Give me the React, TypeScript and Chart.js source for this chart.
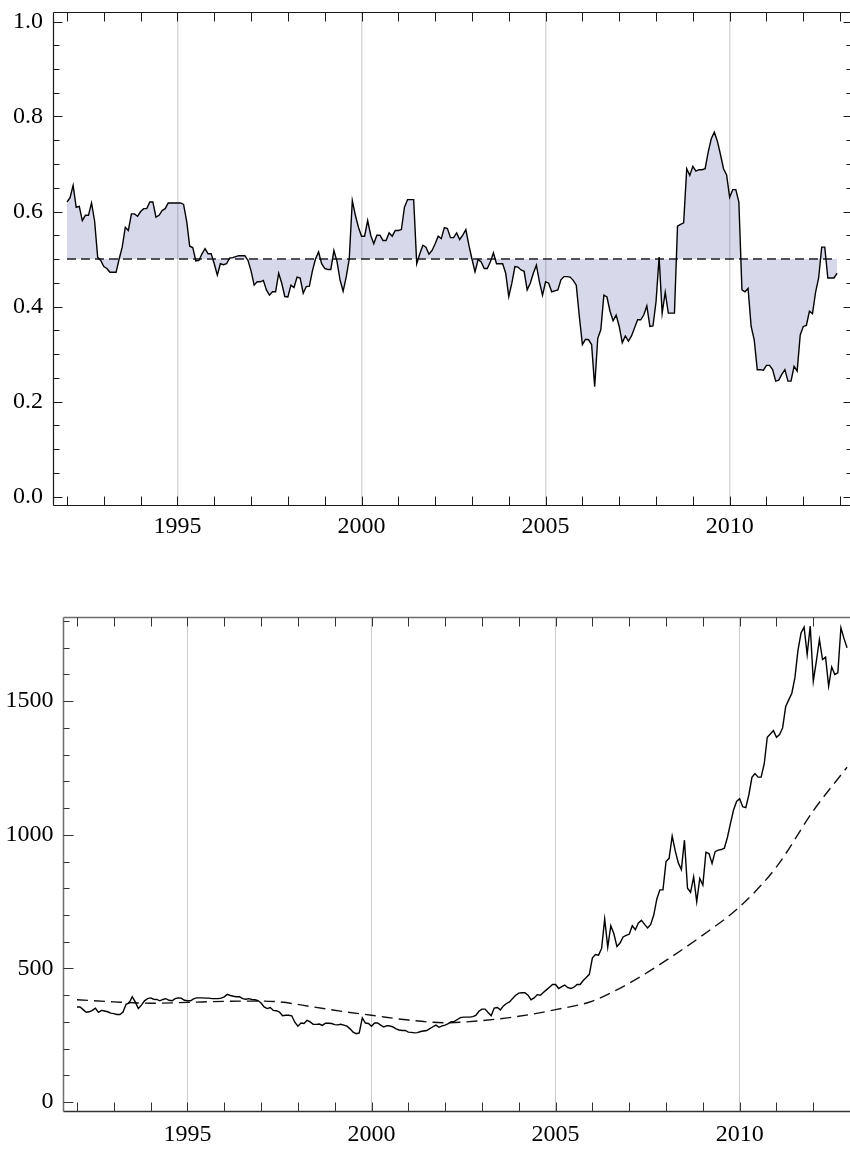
import React, { useEffect, useRef } from 'react';
import { Chart, registerables } from 'chart.js';

Chart.register(...registerables);

// ---------- data ----------
const startYear = 1992;
const monthCount = 252; // Jan 1992 .. Dec 2012
const months: number[] = Array.from({ length: monthCount }, (_, i) => startYear + i / 12);

const yearTicks = [1992, 1993, 1994, 1995, 1996, 1997, 1998, 1999, 2000, 2001, 2002, 2003, 2004, 2005, 2006, 2007, 2008, 2009, 2010, 2011, 2012, 2013];
const labelledYears = [1995, 2000, 2005, 2010];

const ratioMajorTicks = [0, 0.2, 0.4, 0.6, 0.8, 1.0];
const ratioMinorTicks = [0.05, 0.1, 0.15, 0.25, 0.3, 0.35, 0.45, 0.5, 0.55, 0.65, 0.7, 0.75, 0.85, 0.9, 0.95];
const priceMajorTicks = [0, 500, 1000, 1500];
const priceMinorTicks = [100, 200, 300, 400, 600, 700, 800, 900, 1100, 1200, 1300, 1400, 1600, 1700, 1800];

const threshold = 0.5;

const ratioValues = [
  0.620, 0.629, 0.655, 0.609, 0.611, 0.581, 0.592, 0.592, 0.618, 0.580, 0.504, 0.497,
  0.484, 0.480, 0.472, 0.472, 0.472, 0.500, 0.525, 0.567, 0.560, 0.595, 0.595, 0.590,
  0.600, 0.606, 0.606, 0.620, 0.620, 0.588, 0.592, 0.602, 0.606, 0.618, 0.618, 0.618,
  0.618, 0.618, 0.615, 0.580, 0.527, 0.524, 0.496, 0.497, 0.511, 0.522, 0.511, 0.511,
  0.490, 0.466, 0.490, 0.488, 0.490, 0.502, 0.503, 0.505, 0.507, 0.507, 0.507, 0.497,
  0.475, 0.445, 0.452, 0.452, 0.455, 0.435, 0.424, 0.431, 0.431, 0.470, 0.449, 0.421,
  0.420, 0.445, 0.440, 0.462, 0.460, 0.428, 0.442, 0.443, 0.475, 0.500, 0.515, 0.490,
  0.480, 0.478, 0.478, 0.518, 0.495, 0.456, 0.432, 0.462, 0.500, 0.623, 0.592, 0.567,
  0.548, 0.548, 0.581, 0.550, 0.532, 0.550, 0.550, 0.539, 0.539, 0.555, 0.548, 0.560,
  0.560, 0.562, 0.609, 0.625, 0.625, 0.625, 0.490, 0.511, 0.529, 0.525, 0.510, 0.518,
  0.532, 0.548, 0.543, 0.566, 0.564, 0.545, 0.545, 0.555, 0.541, 0.550, 0.562, 0.529,
  0.500, 0.473, 0.499, 0.494, 0.480, 0.480, 0.494, 0.513, 0.490, 0.490, 0.490, 0.470,
  0.421, 0.449, 0.484, 0.483, 0.477, 0.474, 0.435, 0.449, 0.470, 0.487, 0.452, 0.424,
  0.452, 0.449, 0.431, 0.433, 0.435, 0.456, 0.463, 0.463, 0.462, 0.455, 0.445, 0.379,
  0.320, 0.331, 0.330, 0.320, 0.231, 0.333, 0.351, 0.424, 0.420, 0.390, 0.370, 0.382,
  0.358, 0.324, 0.338, 0.327, 0.338, 0.355, 0.372, 0.372, 0.382, 0.401, 0.358, 0.359,
  0.410, 0.504, 0.386, 0.430, 0.386, 0.386, 0.386, 0.569, 0.573, 0.576, 0.690, 0.676,
  0.695, 0.685, 0.688, 0.688, 0.690, 0.725, 0.753, 0.767, 0.748, 0.720, 0.690, 0.677,
  0.630, 0.646, 0.646, 0.620, 0.435, 0.431, 0.438, 0.358, 0.330, 0.267, 0.267, 0.266,
  0.276, 0.276, 0.267, 0.243, 0.245, 0.257, 0.267, 0.243, 0.243, 0.274, 0.264, 0.340,
  0.358, 0.360, 0.390, 0.385, 0.430, 0.460, 0.525, 0.525, 0.460, 0.460, 0.460, 0.470,
];

const priceValues = [
  356, 356, 346, 336, 338, 343, 351, 336, 343, 341, 338, 333,
  331, 328, 328, 337, 366, 371, 394, 375, 350, 363, 379, 387,
  390, 385, 384, 379, 384, 387, 381, 379, 387, 390, 389, 381,
  379, 379, 386, 390, 390, 390, 389, 389, 387, 387, 387, 389,
  394, 403, 399, 396, 394, 394, 387, 385, 387, 384, 383, 380,
  371, 356, 350, 354, 343, 342, 337, 323, 325, 325, 323, 299,
  284, 296, 294, 306, 300, 291, 291, 292, 287, 295, 295, 294,
  290, 289, 291, 288, 284, 274, 262, 256, 259, 315, 296, 294,
  284, 296, 296, 288, 281, 286, 285, 281, 274, 270, 268, 268,
  262, 261, 259, 260, 264, 266, 268, 275, 282, 288, 280, 285,
  288, 294, 301, 302, 309, 316, 318, 318, 318, 320, 324, 340,
  348, 348, 335, 323, 352, 354, 345, 360, 369, 375, 388, 400,
  408, 409, 409, 400, 383, 390, 402, 400, 410, 420, 430, 440,
  440, 425, 432, 438, 428, 425, 430, 440, 440, 455, 466, 478,
  540, 552, 550, 575, 685, 580, 660, 630, 582, 595, 618, 624,
  628, 660, 645, 670, 680, 665, 652, 665, 700, 760, 794, 794,
  900, 912, 995, 940, 895, 870, 980, 800, 785, 843, 750, 837,
  812, 935, 930, 893, 937, 943, 945, 950, 990, 1043, 1093, 1125,
  1135, 1105, 1102, 1150, 1215, 1229, 1216, 1216, 1265, 1365, 1377, 1390,
  1365, 1375, 1400, 1480, 1505, 1530, 1587, 1690, 1755, 1777, 1675, 1781,
  1575, 1650, 1731, 1656, 1665, 1556, 1628, 1600, 1606, 1775, 1735, 1700,
];

const trendYears = [1992, 1993, 1994, 1995, 1996, 1997, 1997.5, 1998.42, 1999.33, 2000, 2001, 2002, 2003, 2004, 2005, 2006, 2007, 2008, 2009, 2010, 2011, 2012, 2012.917];
const trendValues = [383, 375, 370, 373, 377, 378, 375, 356, 337, 325, 307, 297, 305, 321, 346, 378, 445, 530, 625, 731, 880, 1090, 1253];

// ---------- helpers ----------
const FONT = { family: "'Liberation Serif', 'DejaVu Serif', serif", size: 24 };
const X_MIN = 1991.62;
const X_MAX = 2013.35;

type FrameOpts = {
  yMajor: number[];
  yMinor: number[];
  xTicks: number[];
  xLen: number;
  yMajorLen: number;
  yMinorLen: number;
  leftColor: string;
  topColor: string;
  bottomColor: string;
  rightColor: string;
  frameWidth: number;
  tickColor: string;
};

const frameTicksPlugin = {
  id: 'frameTicks',
  afterDraw(chart: any, _args: any, opts: FrameOpts) {
    const { ctx, chartArea: a, scales } = chart;
    const xs = scales.x;
    const ys = scales.y;
    const L = a.left + 0.5;
    const R = a.right - 0.5;
    const T = a.top + 0.5;
    const B = a.bottom - 0.5;
    ctx.save();
    const seg = (x1: number, y1: number, x2: number, y2: number, c: string, w = 1) => {
      ctx.strokeStyle = c;
      ctx.lineWidth = w;
      ctx.beginPath();
      ctx.moveTo(x1, y1);
      ctx.lineTo(x2, y2);
      ctx.stroke();
    };
    seg(L, T, R, T, opts.topColor, opts.frameWidth);
    seg(L, B, R, B, opts.bottomColor, opts.frameWidth);
    seg(L, T, L, B, opts.leftColor, opts.frameWidth);
    seg(R, T, R, B, opts.rightColor, opts.frameWidth);
    for (const v of opts.xTicks) {
      const px = Math.round(xs.getPixelForValue(v)) + 0.5;
      if (px < a.left || px > a.right) continue;
      seg(px, B, px, B - opts.xLen, opts.tickColor);
      seg(px, T, px, T + opts.xLen, opts.tickColor);
    }
    const yt = (v: number, len: number) => {
      const py = Math.round(ys.getPixelForValue(v)) + 0.5;
      seg(L, py, L + len, py, opts.tickColor);
      seg(R, py, R - len, py, opts.tickColor);
    };
    opts.yMajor.forEach((v) => yt(v, opts.yMajorLen));
    opts.yMinor.forEach((v) => yt(v, opts.yMinorLen));
    ctx.restore();
  },
};

function xScale(height: number, padding: number, gridColor: string, gridWidth: number) {
  return {
    type: 'linear',
    min: X_MIN,
    max: X_MAX,
    afterBuildTicks: (s: any) => {
      s.ticks = yearTicks.map((v) => ({ value: v }));
    },
    afterFit: (s: any) => {
      s.height = height;
      s.paddingLeft = 0;
      s.paddingRight = 0;
    },
    ticks: {
      autoSkip: false,
      maxRotation: 0,
      minRotation: 0,
      padding,
      color: '#000',
      font: FONT,
      callback: (v: any) => (labelledYears.includes(Number(v)) ? String(v) : ''),
    },
    grid: {
      drawTicks: false,
      lineWidth: gridWidth,
      color: (c: any) => (c.tick && labelledYears.includes(c.tick.value) ? gridColor : 'rgba(0,0,0,0)'),
    },
    border: { display: false },
  };
}

function yScale(width: number, min: number, max: number, major: number[], padding: number, fmt: (v: number) => string) {
  return {
    type: 'linear',
    min,
    max,
    afterBuildTicks: (s: any) => {
      s.ticks = major.map((v) => ({ value: v }));
    },
    afterFit: (s: any) => {
      s.width = width;
      s.paddingTop = 0;
      s.paddingBottom = 0;
    },
    ticks: {
      autoSkip: false,
      padding,
      color: '#000',
      font: FONT,
      callback: (v: any) => fmt(Number(v)),
    },
    grid: { display: false, drawTicks: false },
    border: { display: false },
  };
}

function RatioChart() {
  const ref = useRef<HTMLCanvasElement>(null);
  useEffect(() => {
    if (!ref.current) return;
    const chart = new Chart(ref.current, {
      type: 'line',
      data: {
        datasets: [
          {
            data: months.map((m, i) => ({ x: m, y: ratioValues[i] })),
            borderColor: '#000',
            borderWidth: 1.4,
            pointRadius: 0,
            tension: 0,
            fill: { value: threshold },
            backgroundColor: 'rgba(61,61,153,0.2)',
          },
          {
            data: [
              { x: months[0], y: threshold },
              { x: months[months.length - 1], y: threshold },
            ],
            borderColor: '#1a1a1a',
            borderWidth: 1.4,
            borderDash: [9, 5],
            pointRadius: 0,
            fill: false,
          },
        ],
      },
      options: {
        responsive: false,
        animation: false,
        devicePixelRatio: 1,
        events: [],
        layout: { padding: { top: 12, left: 0, right: 0, bottom: 0 } },
        plugins: {
          legend: { display: false },
          tooltip: { enabled: false },
          frameTicks: {
            yMajor: ratioMajorTicks,
            yMinor: ratioMinorTicks,
            xTicks: yearTicks,
            xLen: 9,
            yMajorLen: 9,
            yMinorLen: 6,
            leftColor: '#1a1a1a',
            topColor: '#1a1a1a',
            bottomColor: '#1a1a1a',
            rightColor: '#1a1a1a',
            frameWidth: 1.2,
            tickColor: '#1a1a1a',
          },
        } as any,
        scales: {
          x: xScale(54, 6, '#d9d9d9', 1.5) as any,
          y: yScale(53, -0.02, 1.02, ratioMajorTicks, 10, (v) => v.toFixed(1)) as any,
        },
      },
      plugins: [frameTicksPlugin as any],
    });
    return () => chart.destroy();
  }, []);
  return <canvas ref={ref} width={853} height={560} style={{ position: 'absolute', left: 0, top: 0, width: 853, height: 560 }} />;
}

function PriceChart() {
  const ref = useRef<HTMLCanvasElement>(null);
  useEffect(() => {
    if (!ref.current) return;
    const chart = new Chart(ref.current, {
      type: 'line',
      data: {
        datasets: [
          {
            data: months.map((m, i) => ({ x: m, y: priceValues[i] })),
            borderColor: '#000',
            borderWidth: 1.4,
            pointRadius: 0,
            tension: 0,
            fill: false,
          },
          {
            data: trendYears.map((t, i) => ({ x: t, y: trendValues[i] })),
            borderColor: '#111',
            borderWidth: 1.4,
            borderDash: [11, 6],
            pointRadius: 0,
            cubicInterpolationMode: 'monotone',
            fill: false,
          },
        ],
      },
      options: {
        responsive: false,
        animation: false,
        devicePixelRatio: 1,
        events: [],
        layout: { padding: { top: 37, left: 0, right: 0, bottom: 0 } },
        plugins: {
          legend: { display: false },
          tooltip: { enabled: false },
          frameTicks: {
            yMajor: priceMajorTicks,
            yMinor: priceMinorTicks,
            xTicks: yearTicks,
            xLen: 9,
            yMajorLen: 10,
            yMinorLen: 6,
            leftColor: '#6e6e6e',
            topColor: '#6e6e6e',
            bottomColor: '#333',
            rightColor: '#6e6e6e',
            frameWidth: 1.5,
            tickColor: '#333',
          },
        } as any,
        scales: {
          x: xScale(37, 8, '#cccccc', 1) as any,
          y: yScale(63, -37, 1815, priceMajorTicks, 9.5, (v) => String(v)) as any,
        },
      },
      plugins: [frameTicksPlugin as any],
    });
    return () => chart.destroy();
  }, []);
  return <canvas ref={ref} width={863} height={569} style={{ position: 'absolute', left: 0, top: 580, width: 863, height: 569 }} />;
}

export default function App() {
  return (
    <div style={{ position: 'absolute', left: 0, top: 0, width: 850, height: 1149, overflow: 'hidden', background: '#fff' }}>
      <RatioChart />
      <PriceChart />
    </div>
  );
}
